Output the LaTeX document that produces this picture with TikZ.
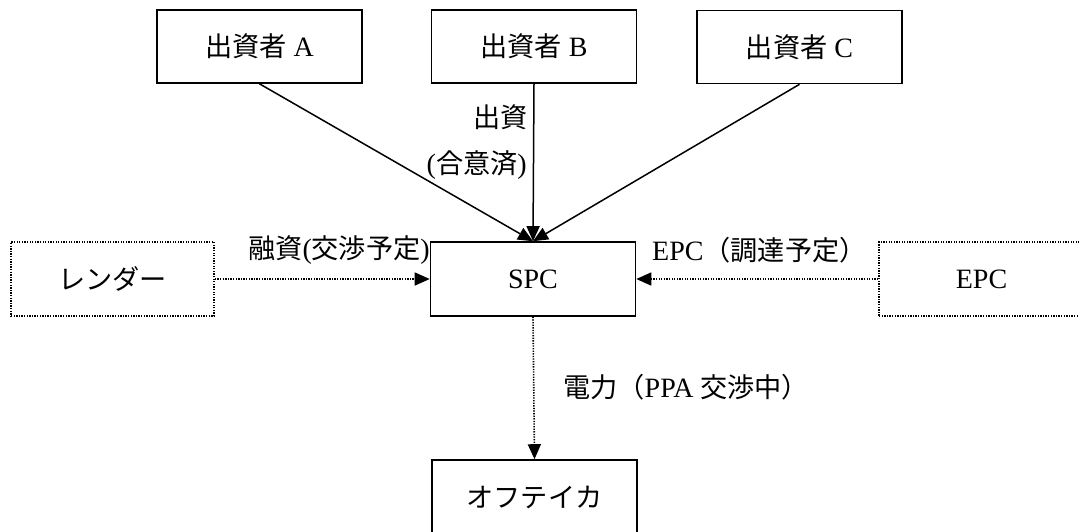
\documentclass[tikz,border=0pt]{standalone}
\usepackage{fontspec}
\setmainfont{Liberation Serif}
\newfontfamily\cjk{Noto Sans CJK JP}[Scale=0.97]
\usetikzlibrary{arrows.meta}
\newcommand{\jp}[1]{{\cjk #1}}
\tikzset{
  box/.style={draw, line width=1.6pt, minimum width=205pt, minimum height=73pt, inner sep=0pt, font=\fontsize{28}{32}\selectfont},
  dotbox/.style={box, line width=1.6pt, dash pattern=on 1.3pt off 1.3pt},
  solidarrow/.style={draw, line width=1.5pt, -{Triangle[length=15pt,width=13pt]}},
  dotarrow/.style={draw, line width=1.6pt, dash pattern=on 1.3pt off 1.3pt, -{Triangle[length=15pt,width=13pt,sep=0pt]}},
  lbl/.style={inner sep=0pt, font=\fontsize{28}{32}\selectfont}
}
\begin{document}
\begin{tikzpicture}[x=1pt,y=-1pt]
\useasboundingbox (0,0) rectangle (1079,531);
\clip (0,0) rectangle (1079,531);
\node[box] (A) at (259.5,46.5) {\jp{出資者} A};
\node[box] (B) at (534,46.5) {\jp{出資者} B};
\node[box] (C) at (799.5,47) {\jp{出資者} C};
\node[box, minimum height=74pt] (S) at (533,279) {SPC};
\node[dotbox, minimum height=74pt, minimum width=203pt] (L) at (112.5,279) {\jp{レンダー}};
\node[dotbox, minimum height=74pt] (E) at (981.5,279) {EPC};
\node[box, minimum height=74pt] (O) at (534.5,497) {\jp{オフテイカ}};
\draw[solidarrow] (A.south) -- (S.north);
\draw[solidarrow] (B.south) -- (S.north);
\draw[solidarrow] (C.south) -- (S.north);
\draw[dotarrow] (L.east) -- (S.west);
\draw[dotarrow] (E.west) -- (S.east);
\draw[dotarrow] (S.south) -- (O.north);
\node[lbl, anchor=east] (l1) at (528,117) {\jp{出資}};
\node[lbl, anchor=east] (l2) at (527,165) {(\jp{合意済})};
\node[lbl, anchor=east] (l3) at (430,250) {\jp{融資}(\jp{交渉予定})};
\node[lbl, anchor=west] (l4) at (652,250) {EPC\jp{（調達予定）}};
\node[lbl, anchor=west] (l5) at (563,387) {\jp{電力（}PPA \jp{交渉中）}};
\end{tikzpicture}
\end{document}
